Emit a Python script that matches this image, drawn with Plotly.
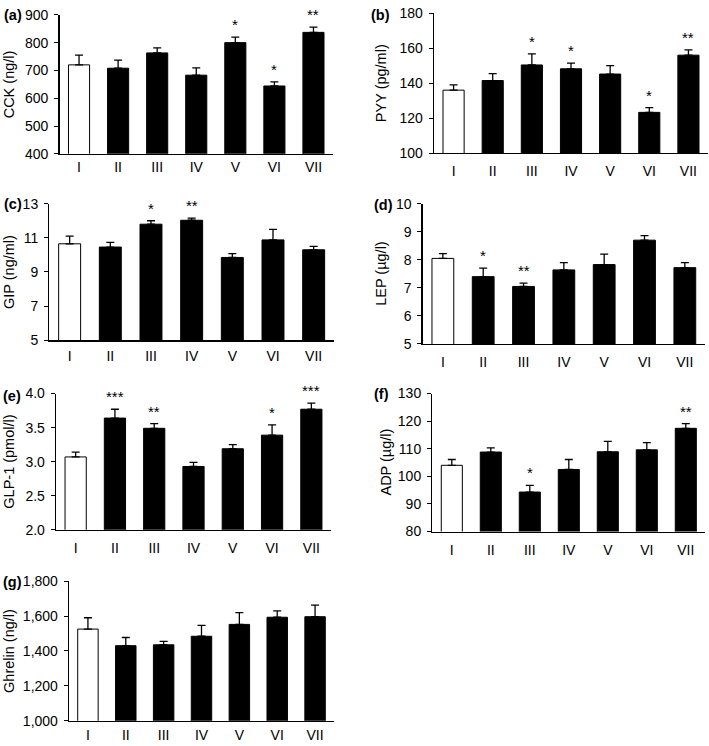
import plotly.graph_objects as go

W, H = 709, 746

groups = ["I", "II", "III", "IV", "V", "VI", "VII"]

cck = [720, 708, 763, 683, 800, 644, 837]
cck_err = [35, 29, 18, 26, 20, 15, 19]
cck_sig = ["", "", "", "", "*", "*", "**"]

pyy = [136, 141.5, 150.4, 148.2, 145.2, 123.3, 156]
pyy_err = [3, 4, 6.3, 3.3, 4.8, 2.7, 3]
pyy_sig = ["", "", "*", "*", "", "*", "**"]

gip = [10.65, 10.46, 11.8, 12.03, 9.85, 10.88, 10.3]
gip_err = [0.45, 0.27, 0.2, 0.12, 0.23, 0.62, 0.2]
gip_sig = ["", "", "*", "**", "", "", ""]

lep = [8.05, 7.4, 7.05, 7.64, 7.83, 8.7, 7.72]
lep_err = [0.17, 0.3, 0.12, 0.26, 0.37, 0.16, 0.18]
lep_sig = ["", "*", "**", "", "", "", ""]

glp1 = [3.07, 3.64, 3.49, 2.93, 3.19, 3.39, 3.77]
glp1_err = [0.07, 0.13, 0.07, 0.06, 0.06, 0.15, 0.09]
glp1_sig = ["", "***", "**", "", "", "*", "***"]

adp = [104, 108.8, 94.3, 102.5, 108.9, 109.6, 117.4]
adp_err = [2.1, 1.5, 2.4, 3.6, 3.8, 2.6, 1.7]
adp_sig = ["", "", "*", "", "", "", "**"]

ghrelin = [1525, 1430, 1435, 1484, 1552, 1593, 1596]
ghrelin_err = [65, 47, 20, 62, 67, 36, 67]
ghrelin_sig = ["", "", "", "", "", "", ""]

FONT = "Liberation Sans, Arial, sans-serif"

panels = [
    dict(lab="(a)", vals=cck, err=cck_err, sig=cck_sig, title="CCK (ng/l)",
         x0=59.5, x1=333, ytop=7, ybot=149, rng=[400, 900], dtick=100, fmt="",
         tx=9, lx=13, ly=7, so=0),
    dict(lab="(b)", vals=pyy, err=pyy_err, sig=pyy_sig, title="PYY (pg/ml)",
         x0=434, x1=708, ytop=5.3, ybot=148.3, rng=[100, 180], dtick=20, fmt="",
         tx=381, lx=380, ly=7, so=5),
    dict(lab="(c)", vals=gip, err=gip_err, sig=gip_sig, title="GIP (ng/ml)",
         x0=49.3, x1=334, ytop=200, ybot=339.5, rng=[5, 13], dtick=2, fmt="",
         tx=9, lx=13, ly=200, so=3),
    dict(lab="(d)", vals=lep, err=lep_err, sig=lep_sig, title="LEP (µg/l)",
         x0=422.7, x1=705, ytop=200, ybot=343.3, rng=[5, 10], dtick=1, fmt="",
         tx=381, lx=383, ly=201, so=5),
    dict(lab="(e)", vals=glp1, err=glp1_err, sig=glp1_sig, title="GLP-1 (pmol/l)",
         x0=56, x1=331, ytop=394, ybot=533.3, rng=[2, 4], dtick=0.5, fmt=".1f",
         tx=9, lx=12, ly=396, so=5),
    dict(lab="(f)", vals=adp, err=adp_err, sig=adp_sig, title="ADP (µg/l)",
         x0=432.3, x1=705.3, ytop=394, ybot=535, rng=[80, 130], dtick=10, fmt="",
         tx=386, lx=381, ly=394, so=5),
    dict(lab="(g)", vals=ghrelin, err=ghrelin_err, sig=ghrelin_sig, title="Ghrelin (ng/l)",
         x0=69, x1=334, ytop=585.7, ybot=728.3, rng=[1000, 1800], dtick=200, fmt=",",
         tx=9, lx=12, ly=587, so=1),
]

fig = go.Figure()
annotations = []
layout = {}

for i, p in enumerate(panels, start=1):
    xs = "x" if i == 1 else f"x{i}"
    ys = "y" if i == 1 else f"y{i}"
    xk = "xaxis" if i == 1 else f"xaxis{i}"
    yk = "yaxis" if i == 1 else f"yaxis{i}"
    colors = ["white"] + ["black"] * (len(groups) - 1)
    fig.add_trace(go.Bar(
        x=groups, y=p["vals"], xaxis=xs, yaxis=ys, showlegend=False,
        marker=dict(color=colors, line=dict(color="black", width=1)),
        error_y=dict(type="data", symmetric=False, array=p["err"],
                     arrayminus=[0] * len(groups), color="black",
                     thickness=1.3, width=4),
    ))
    layout[xk] = dict(
        domain=[p["x0"] / W, p["x1"] / W], anchor=ys, range=[-0.5, 6.5],
        showline=True, linecolor="black", linewidth=1.3, ticks="",
        showgrid=False, zeroline=False, ticklabelstandoff=p["so"],
        tickfont=dict(family=FONT, size=14, color="black"), fixedrange=True,
    )
    layout[yk] = dict(
        domain=[1 - p["ybot"] / H, 1 - p["ytop"] / H], anchor=xs,
        range=p["rng"], dtick=p["dtick"], tick0=p["rng"][0], tickformat=p["fmt"],
        showline=True, linecolor="black", linewidth=1.3, ticks="outside",
        ticklen=4, tickwidth=1, tickcolor="black", showgrid=False, zeroline=False,
        tickfont=dict(family=FONT, size=14, color="black"), ticklabelstandoff=3,
        fixedrange=True,
    )
    # axis title
    annotations.append(dict(
        xref="paper", yref="paper", x=p["tx"] / W,
        y=1 - (p["ytop"] + p["ybot"]) / 2 / H, text=p["title"], textangle=-90,
        showarrow=False, xanchor="center", yanchor="middle",
        font=dict(family=FONT, size=14.5, color="black"),
    ))
    # panel label
    annotations.append(dict(
        xref="paper", yref="paper", x=p["lx"] / W, y=1 - p["ly"] / H,
        text="<b>" + p["lab"] + "</b>", showarrow=False,
        xanchor="center", yanchor="middle",
        font=dict(family=FONT, size=14.5, color="black"),
    ))
    # significance stars
    for g, v, e, s in zip(groups, p["vals"], p["err"], p["sig"]):
        if s:
            annotations.append(dict(
                xref=xs, yref=ys, x=g, y=v + e, text=s, showarrow=False,
                xanchor="center", yanchor="bottom", yshift=2,
                font=dict(family=FONT, size=15, color="black"),
            ))

fig.update_layout(
    width=W, height=H, margin=dict(l=0, r=0, t=0, b=0),
    paper_bgcolor="white", plot_bgcolor="white", hovermode=False,
    bargap=0.46, annotations=annotations, **layout,
)

fig.write_html(
    "out.html",
    config={"displayModeBar": False, "staticPlot": True},
    post_script="document.body.style.margin='0';document.body.style.overflow='hidden';",
)
